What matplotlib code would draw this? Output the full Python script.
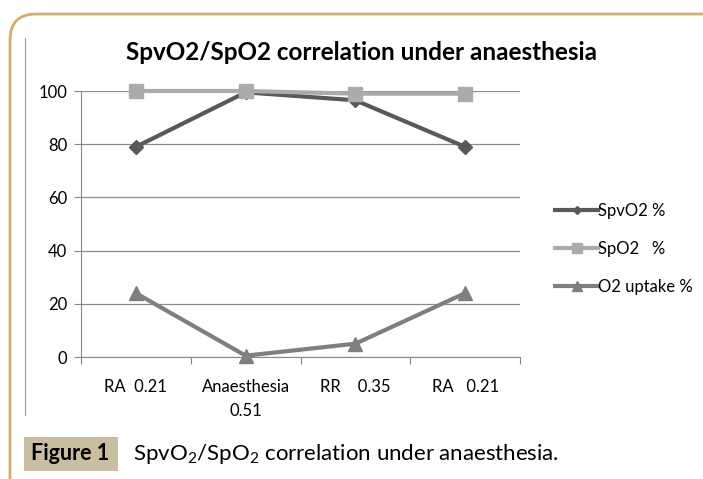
import matplotlib.pyplot as plt
from matplotlib.patches import FancyBboxPatch, Rectangle

categories = ["RA  0.21", "Anaesthesia\n0.51", "RR    0.35", "RA   0.21"]
spvo2 = [79, 99.5, 96.5, 79]
spo2 = [100, 100, 99, 99]
o2_uptake = [24, 0.5, 5, 24]

plt.rcParams['font.family'] = ['Lato', 'DejaVu Sans']
plt.rcParams['mathtext.fontset'] = 'custom'
plt.rcParams['mathtext.rm'] = 'Lato'
plt.rcParams['mathtext.it'] = 'Lato:italic'

fig = plt.figure(figsize=(7.03, 4.79), dpi=100)
W, H = 703, 479

# background layer in pixel coordinates for the frame and caption box
bg = fig.add_axes([0, 0, 1, 1])
bg.set_xlim(0, W)
bg.set_ylim(H, 0)
bg.axis("off")
bg.add_patch(FancyBboxPatch((10, 14), W + 60, H + 60,
                            boxstyle="round,pad=0,rounding_size=26",
                            fill=False, edgecolor="#D4AE62", linewidth=2))
bg.plot([25, 25], [38, 415], color="#A0A0A0", linewidth=0.8)
bg.add_patch(Rectangle((24, 437), 94, 34, facecolor="#C9BFA0", edgecolor="none"))

ax = fig.add_axes([81 / W, 1 - 357 / H, (520 - 81) / W, (357 - 91) / H])
x = range(len(categories))
ax.plot(x, spvo2, color="#595959", linewidth=3, marker="D", markersize=7,
        label="SpvO2 %", clip_on=False)
ax.plot(x, spo2, color="#ABABAB", linewidth=3, marker="s", markersize=10,
        label="SpO2   %", clip_on=False)
ax.plot(x, o2_uptake, color="#7F7F7F", linewidth=3, marker="^", markersize=10,
        label="O2 uptake %", clip_on=False)

ax.set_xlim(-0.5, 3.5)
ax.set_ylim(0, 100)
ax.set_yticks(range(0, 101, 20))
ax.set_xticks([-0.5, 0.5, 1.5, 2.5, 3.5])
ax.set_xticklabels([])
ax.set_xticks(list(x), minor=True)
ax.set_xticklabels(categories, minor=True, fontsize=12, linespacing=1.6)
ax.tick_params(axis="x", which="minor", length=0, pad=16)
ax.tick_params(axis="x", which="major", length=5, color="#888888")
ax.tick_params(axis="y", length=5, color="#888888", labelsize=12, pad=5)
ax.grid(axis="y", color="#8C8C8C", linewidth=0.9)
ax.set_axisbelow(True)
for side in ["top", "right"]:
    ax.spines[side].set_visible(False)
ax.spines["left"].set_color("#888888")
ax.spines["bottom"].set_color("#888888")

fig.text(361 / W, 1 - 53 / H, "SpvO2/SpO2 correlation under anaesthesia", fontsize=17.5,
         fontweight="bold", ha="center", va="center")

fig.legend(loc="center left", bbox_to_anchor=(540 / W, 1 - 249 / H), frameon=False,
           fontsize=12, handlelength=2.6, handletextpad=0, labelspacing=1.3,
           markerscale=0.65)

# caption
fig.text(31 / W, 1 - 454 / H, "Figure 1", fontsize=15.5, fontweight="bold", va="center")
fig.text(133 / W, 1 - 454 / H, "SpvO$_2$/SpO$_2$ correlation under anaesthesia.",
         fontsize=16, va="center")

plt.savefig("out.png", dpi=100)
